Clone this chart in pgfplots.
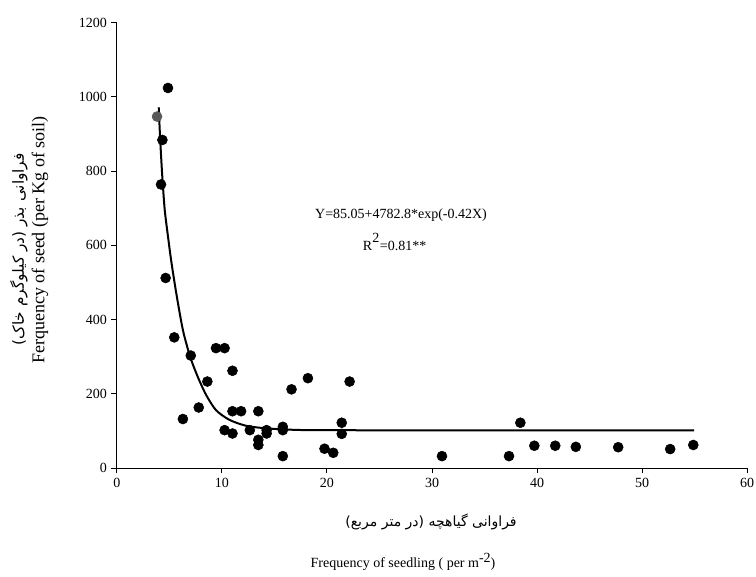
\documentclass[border=0pt]{standalone}
\usepackage{fontspec}
\setmainfont{Liberation Serif}
\newfontfamily\arabicfont[Script=Arabic]{DejaVu Sans}
\usepackage{pgfplots}
\pgfplotsset{compat=1.18}
\TeXXeTstate=1

\pgfplotstableread{
x y
4.87 1024
4.34 884
4.21 764
4.65 512
5.47 352
7.04 303
6.29 132
7.80 163
8.62 233
9.44 323
10.26 323
11.01 262
10.26 102
11.01 153
11.83 153
11.01 93
12.66 102
13.47 153
13.47 76
13.47 62
14.26 102
14.26 93
15.80 111
15.80 102
15.80 32
16.63 212
18.19 242
22.16 233
21.41 122
21.41 92
19.77 52
20.60 41
38.41 122
30.95 32
37.33 32
39.74 60
41.73 60
43.69 57
47.72 56
52.67 51
54.87 62
}\pts

\pgfplotstableread{
x y
3.99 972
4.13 885
4.32 790
4.56 696
4.89 620
5.19 556
5.66 471
6.29 372
6.98 300
7.70 246
8.50 197
9.44 156
10.70 130
12.28 114
14.17 107
17.32 102.5
22.00 101.8
30.00 101.4
54.94 101.1
}\fit

\begin{document}
\begin{tikzpicture}
\path[use as bounding box] (0,0) rectangle (567pt,432pt);
\begin{axis}[
  at={(87.6pt,81pt)}, anchor=south west,
  scale only axis, width=472.8pt, height=334pt,
  xmin=0, xmax=60, ymin=0, ymax=1200,
  xtick={0,10,...,60}, ytick={0,200,...,1200},
  axis x line*=bottom, axis y line*=left,
  axis line style={black, line width=0.75pt, -},
  tick style={black, line width=0.75pt},
  tick align=outside, major tick length=4pt,
  ticklabel style={font=\fontsize{10.5}{12}\selectfont},
  /pgf/number format/assume math mode=true,
  /pgf/number format/1000 sep={},
  scaled ticks=false,
  clip=false,
]
\addplot[black, line width=1.5pt, smooth, tension=0.45] table[x=x,y=y] {\fit};
\addplot[only marks, mark=*, mark size=3.75pt, black] table[x=x,y=y] {\pts};
\addplot[only marks, mark=*, mark size=3.75pt, draw=black!65, fill=black!65, mark options={draw=black!65, fill=black!65}] coordinates {(3.83,947)};
\end{axis}
\node[anchor=base, font=\fontsize{10.5}{12}\selectfont] at (300.75pt,268.5pt) {Y=85.05+4782.8*exp(-0.42X)};
\node[anchor=base, font=\fontsize{10.5}{12}\selectfont] at (296pt,244.5pt) {R\raisebox{1.1ex}{2}\hspace{0.5pt}=0.81**};
\node[font=\arabicfont\fontsize{10.5}{12}\selectfont] at (323.25pt,40.5pt) {\beginR فراوانی گیاهچه (در متر مربع)\endR};
\node[font=\fontsize{10.5}{12}\selectfont] at (302.25pt,10.5pt) {Frequency of seedling ( per m\raisebox{0.8ex}{-2})};
\node[rotate=90, font=\arabicfont\fontsize{11.5}{13}\selectfont] at (14.25pt,245pt) {\beginR فراوانی بذر (در کیلوگرم خاک)\endR};
\node[rotate=90, font=\fontsize{13.5}{15}\selectfont] at (30pt,252pt) {Ferquency of seed (per Kg of soil)};
\end{tikzpicture}
\end{document}
